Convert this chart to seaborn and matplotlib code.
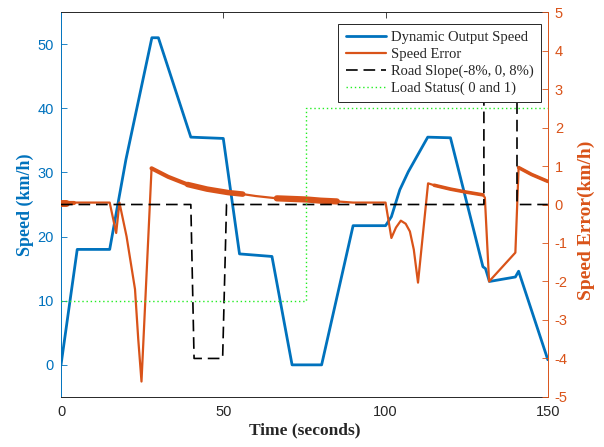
import numpy as np
import pandas as pd
import matplotlib
matplotlib.use("Agg")
import matplotlib.pyplot as plt
import seaborn as sns

# ---------------- data ----------------
speed_t = [0, 5, 15, 20, 28, 30, 40, 50, 55, 65, 71.2, 80.3, 90, 100, 101.8,
           104.4, 107, 113, 120, 130, 130.8, 132, 140, 141, 150]
speed_v = [0, 18, 18, 32, 51, 51, 35.5, 35.3, 17.3, 16.9, 0, 0, 21.7, 21.7, 23.1,
           27.3, 30.1, 35.5, 35.4, 15.3, 15.0, 13.0, 13.7, 14.6, 0.8]

error_t = [0, 1.5, 4, 15, 17, 18, 20.2, 22.8, 23.8, 24.8, 27.9, 33, 39, 45, 51.5,
           56, 60, 66.5, 75.7, 80, 85, 90, 100, 101.8, 103.2, 104.7, 106.2, 107.5,
           108.7, 110, 113.1, 115, 120, 125, 130, 130.6, 131.9, 140, 141, 145, 150]
error_v = [0.05, 0.05, 0.05, 0.05, -0.74, 0.05, -0.83, -2.2, -3.5, -4.6, 0.94, 0.72,
           0.52, 0.4, 0.31, 0.27, 0.22, 0.16, 0.13, 0.1, 0.08, 0.05, 0.05, -0.87,
           -0.6, -0.42, -0.5, -0.7, -1.17, -2.03, 0.55, 0.5, 0.4, 0.32, 0.25, 0.18,
           -2.0, -1.25, 0.96, 0.78, 0.6]

# noisy (thick) stretches of the speed error: (start, end)
noise_windows = [(0, 1.5), (1.5, 4), (27.9, 39), (39, 56), (66.5, 85),
                 (115, 130), (141, 150)]

slope_t = [0, 40, 41, 49.8, 51, 130.3, 130.3, 140.5, 140.5, 150]
slope_v = [0, 0, -4, -4, 0, 0, 4, 4, 0, 0]

load_t = [0, 75.4, 75.4, 150]
load_v = [-2.5, -2.5, 2.5, 2.5]

x_ticks = [0, 50, 100, 150]
left_ticks = [0, 10, 20, 30, 40, 50]
right_ticks = [-5, -4, -3, -2, -1, 0, 1, 2, 3, 4, 5]

labels = ["Dynamic Output Speed", "Speed Error", "Road Slope(-8%, 0, 8%)",
          "Load Status( 0 and 1)"]

# ---------------- style ----------------
sns.set_style("white")
plt.rcParams["font.family"] = ["Liberation Sans", "DejaVu Sans"]
plt.rcParams["axes.unicode_minus"] = False
plt.rcParams["xtick.direction"] = "in"
plt.rcParams["ytick.direction"] = "in"

BLUE = "#0072BD"
ORANGE = "#D95319"
DARK = "#262626"

fig = plt.figure(figsize=(6.04, 4.47), dpi=100)
ax = fig.add_axes([0.101, 0.112, 0.806, 0.861])
ax2 = ax.twinx()

speed = pd.DataFrame({"t": speed_t, "v": speed_v})
err = pd.DataFrame({"t": error_t, "v": error_v})
slope = pd.DataFrame({"t": slope_t, "v": slope_v})
load = pd.DataFrame({"t": load_t, "v": load_v})

sns.lineplot(data=speed, x="t", y="v", ax=ax, color=BLUE, lw=2.0,
             estimator=None, sort=False)

sns.lineplot(data=err, x="t", y="v", ax=ax2, color=ORANGE, lw=1.6,
             estimator=None, sort=False)
noise_lw = [5, 3, 3, 4, 4.5, 2.6, 2.6]
for (a, b), w in zip(noise_windows, noise_lw):
    seg = err[(err.t >= a) & (err.t <= b)]
    sns.lineplot(data=seg, x="t", y="v", ax=ax2, color=ORANGE, lw=w,
                 estimator=None, sort=False)

sns.lineplot(data=slope, x="t", y="v", ax=ax2, color="black", lw=1.2,
             estimator=None, sort=False, dashes=False, linestyle=(0, (7, 3.5)))
sns.lineplot(data=load, x="t", y="v", ax=ax2, color="#22ee22", lw=1.0,
             estimator=None, sort=False, linestyle=(0, (1, 2)))

# ---------------- axes ----------------
ax.set_xlim(0, 150)
ax.set_ylim(-5, 55)
ax2.set_ylim(-5, 5)
ax.set_xticks(x_ticks)
ax.set_yticks(left_ticks)
ax2.set_yticks(right_ticks)

ax.tick_params(axis="x", colors=DARK, labelcolor=DARK, labelsize=10.5,
               length=4, width=0.6, top=True, pad=6)
ax.tick_params(axis="y", colors=BLUE, labelcolor=BLUE, labelsize=10.5,
               length=4, width=0.6, pad=5)
ax2.tick_params(axis="y", colors=ORANGE, labelcolor=ORANGE, labelsize=10.5,
                length=4, width=0.6, pad=5)

for s in ["top", "bottom"]:
    ax.spines[s].set_color(DARK)
    ax.spines[s].set_linewidth(0.7)
    ax2.spines[s].set_visible(False)
ax.spines["left"].set_color(BLUE)
ax.spines["left"].set_linewidth(0.7)
ax.spines["right"].set_visible(False)
ax2.spines["left"].set_visible(False)
ax2.spines["right"].set_color(ORANGE)
ax2.spines["right"].set_linewidth(0.7)
ax2.spines["right"].set_visible(True)

serif = ["Liberation Serif", "DejaVu Serif"]
ax.set_xlabel("Time (seconds)", color=DARK, labelpad=2,
              family=serif, weight="bold", size=12.5)
ax.set_ylabel("Speed (km/h)", color=BLUE, labelpad=3,
              family=serif, weight="bold", size=13)
ax2.set_ylabel("Speed Error(km/h)", color=ORANGE, rotation=90,
               family=serif, weight="bold", size=14)
ax2.yaxis.set_label_coords(1.062, 0.46)

# ---------------- legend ----------------
handles = [ax.lines[0], ax2.lines[0], ax2.lines[-2], ax2.lines[-1]]
leg = ax2.legend(handles, labels, loc="upper right",
                 bbox_to_anchor=(0.9856, 0.969), borderaxespad=0,
                 prop=dict(family=serif, size=10.5),
                 frameon=True, fancybox=False, framealpha=1, edgecolor=DARK,
                 handlelength=2.8, handletextpad=0.3, labelspacing=0.24,
                 borderpad=0.5)
leg.get_frame().set_linewidth(0.7)

fig.savefig("out.png", dpi=100)
